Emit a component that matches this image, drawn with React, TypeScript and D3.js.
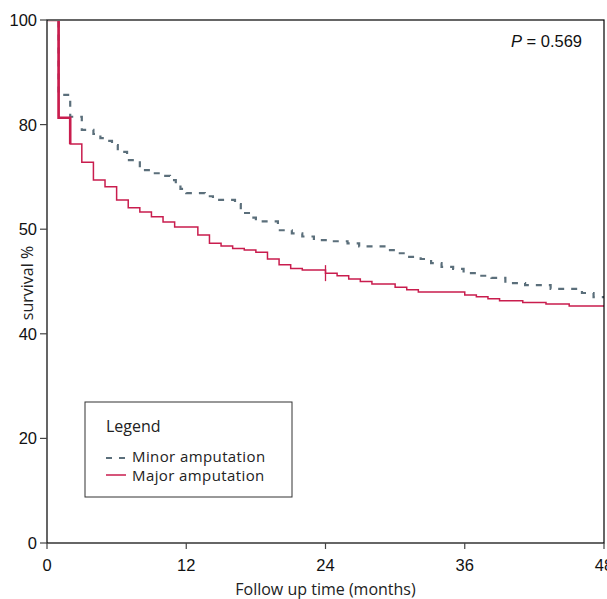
import React from 'react';
import * as d3 from 'd3';

// Kaplan-Meier step points: [month, survival %]
const minorTimes = [0, 1, 2, 3, 4, 4.6, 5, 5.6, 6.1, 6.9, 8, 8.9, 9.9, 10.6, 11.1, 11.5, 12, 13.6, 14.3, 16.2, 16.7, 17.6, 18, 19.9, 21.1, 22, 23, 24.2, 25.9, 26.9, 29.3, 30.2, 31.1, 32.2, 33.1, 34, 35, 35.9, 37, 38.3, 39.5, 41.2, 43.4, 46.1, 47.1, 48];
const minorSurvival = [100, 85.7, 81.5, 79.0, 78.2, 77.4, 76.9, 76.1, 74.8, 73.2, 71.3, 70.7, 70.2, 69.4, 68.6, 67.7, 66.9, 66.3, 65.6, 64.8, 63.1, 62.2, 61.5, 59.8, 59.2, 58.6, 57.9, 57.7, 57.3, 56.7, 56.0, 55.4, 54.7, 54.3, 53.5, 52.8, 52.4, 51.6, 51.1, 50.7, 49.7, 49.3, 48.6, 47.8, 47.0, 47.0];

const majorTimes = [0, 1, 2, 3, 4, 5, 6, 7, 8, 9, 10, 11, 13, 14, 15, 16, 17, 18, 19, 20, 21, 22, 24, 25, 26, 27, 28, 30, 31, 32, 36, 37, 38, 39, 41, 43, 45, 48];
const majorSurvival = [100, 81.3, 76.3, 72.8, 69.4, 68.1, 65.6, 64.1, 63.3, 62.4, 61.4, 60.4, 58.9, 57.3, 56.8, 56.3, 56.0, 55.6, 54.3, 53.2, 52.5, 52.2, 51.6, 51.1, 50.5, 50.0, 49.5, 48.9, 48.4, 48.0, 47.4, 47.1, 46.7, 46.3, 46.0, 45.7, 45.3, 45.3];
const majorCensored = [24];

const xTicks = [0, 12, 24, 36, 48];
const yTicks = [0, 20, 40, 60, 80, 100];
const yTickLabels = ['0', '20', '40', '50', '80', '100'];
const seriesNames = ['Minor amputation', 'Major amputation'];
const pText = '0.569';

const W = 607;
const H = 599;
const left = 47;
const right = 604;
const top = 20;
const bottom = 543;

const RED = '#c91d4e';
const GRAY = '#5b6f7b';

export default function App() {
  const x = d3.scaleLinear().domain([0, 48]).range([left, right]);
  const y = d3.scaleLinear().domain([0, 100]).range([bottom, top]);

  const line = d3
    .line<[number, number]>()
    .x(d => x(d[0]))
    .y(d => y(d[1]))
    .curve(d3.curveStepAfter);

  const minor = minorTimes.map((t, i) => [t, minorSurvival[i]] as [number, number]);
  const major = majorTimes.map((t, i) => [t, majorSurvival[i]] as [number, number]);
  // heavy first drop of the major curve
  const majorHead = major.slice(0, 3);

  const majorAt = (t: number) => {
    let v = majorSurvival[0];
    majorTimes.forEach((mt, i) => {
      if (mt <= t) v = majorSurvival[i];
    });
    return v;
  };

  const axisFont = '"Liberation Sans", Arial, sans-serif';
  const textFont = '"Open Sans", sans-serif';

  return (
    <svg width={W} height={H} style={{ position: 'absolute', left: 0, top: 0, background: '#fff' }}>
      <defs>
        <clipPath id="plotClip">
          <rect x={left + 1} y={top + 1} width={right - left - 1} height={bottom - top - 1} />
        </clipPath>
      </defs>

      {/* curves */}
      <g clipPath="url(#plotClip)">
        <path d={line(minor) || ''} fill="none" stroke={GRAY} strokeWidth={2.2} strokeDasharray="6,7" />
        <path d={line(major) || ''} fill="none" stroke={RED} strokeWidth={1.5} />
        <path d={line(majorHead) || ''} fill="none" stroke={RED} strokeWidth={2.6} />
        {majorCensored.map(t => (
          <line key={t} x1={x(t)} x2={x(t)} y1={y(majorAt(t)) - 8} y2={y(majorAt(t)) + 8} stroke={RED} strokeWidth={1.3} />
        ))}
      </g>

      {/* frame */}
      <rect x={left} y={top} width={right - left} height={bottom - top} fill="none" stroke="#000" strokeWidth={1.2} />

      {/* y axis */}
      {yTicks.map((v, i) => (
        <g key={v}>
          <line x1={left - 7} x2={left} y1={y(v)} y2={y(v)} stroke="#444" strokeWidth={1.2} />
          <text x={left - 10} y={y(v)} dy="0.36em" textAnchor="end" fontFamily={axisFont} fontSize={16.5} fill="#111">
            {yTickLabels[i]}
          </text>
        </g>
      ))}
      <text
        transform={`translate(33, ${283}) rotate(-90)`}
        textAnchor="middle"
        fontFamily={textFont}
        fontSize={16}
        fill="#222"
      >
        survival %
      </text>

      {/* x axis */}
      {xTicks.map(v => (
        <g key={v}>
          <line x1={x(v)} x2={x(v)} y1={bottom} y2={bottom + 6} stroke="#444" strokeWidth={1.2} />
          <text x={x(v)} y={571} textAnchor="middle" fontFamily={axisFont} fontSize={16.5} fill="#111">
            {v}
          </text>
        </g>
      ))}
      <text x={(left + right) / 2} y={595} textAnchor="middle" fontFamily={textFont} fontSize={16} fill="#222">
        Follow up time (months)
      </text>

      {/* p value */}
      <text x={582} y={47} textAnchor="end" fontFamily={axisFont} fontSize={16.5} fill="#111">
        <tspan fontStyle="italic">P</tspan>
        <tspan> = {pText}</tspan>
      </text>

      {/* legend */}
      <rect x={85} y={402} width={207} height={95} fill="#fff" stroke="#333" strokeWidth={1} />
      <text x={106} y={432} fontFamily={textFont} fontSize={16} fill="#222">Legend</text>
      <line x1={106} x2={126} y1={458} y2={458} stroke={GRAY} strokeWidth={2} strokeDasharray="6,7" />
      <text x={132} y={462} fontFamily={textFont} fontSize={15} letterSpacing={0.4} fill="#222">{seriesNames[0]}</text>
      <line x1={106} x2={126} y1={475} y2={475} stroke={RED} strokeWidth={1.5} />
      <text x={132} y={481} fontFamily={textFont} fontSize={15} letterSpacing={0.4} fill="#222">{seriesNames[1]}</text>
    </svg>
  );
}
